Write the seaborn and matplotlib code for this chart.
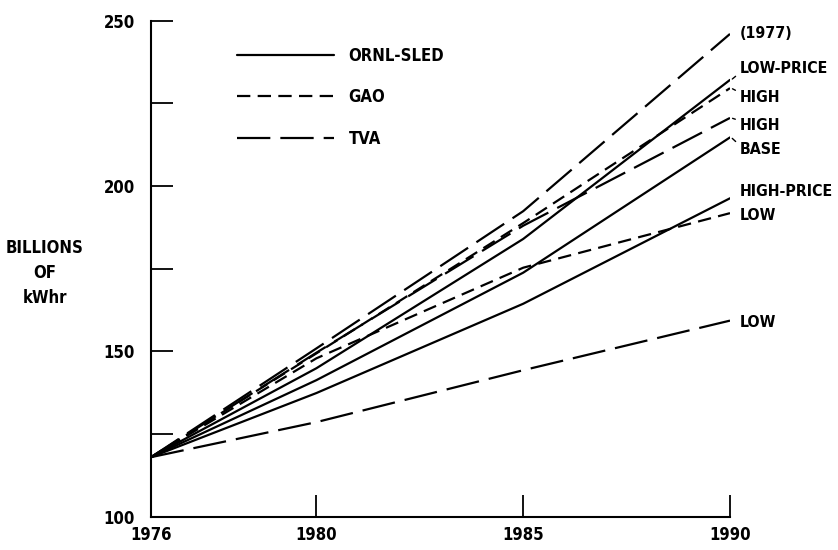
import numpy as np
import pandas as pd
import seaborn as sns
import matplotlib.pyplot as plt
from matplotlib import font_manager

# forecast years and values (billions of kWhr)
years = [1976, 1980, 1985, 1990]

ornl_low_price = [118, 144.9, 184.0, 232.1]
ornl_base = [118, 141.3, 173.8, 214.7]
ornl_high_price = [118, 137.4, 164.4, 196.3]
gao_high = [118, 149.4, 188.8, 229.6]
gao_low = [118, 147.9, 175.3, 191.8]
tva_1977 = [118, 150.9, 192.4, 246.0]
tva_high = [118, 149.6, 188.0, 220.6]
tva_low = [118, 128.6, 144.3, 159.3]

sources = ['ORNL-SLED', 'GAO', 'TVA']
series = [
    ('ORNL-SLED', 'LOW-PRICE', ornl_low_price),
    ('ORNL-SLED', 'BASE', ornl_base),
    ('ORNL-SLED', 'HIGH-PRICE', ornl_high_price),
    ('GAO', 'HIGH', gao_high),
    ('GAO', 'LOW', gao_low),
    ('TVA', '(1977)', tva_1977),
    ('TVA', 'HIGH', tva_high),
    ('TVA', 'LOW', tva_low),
]

# where the end labels sit (data y) and whether they get a little leader line
label_y = [235.4, 210.9, 198.3, 226.9, 191.0, 246.1, 218.4, 158.7]
leader = [(0, 0.25), (0, 0.8), None, (0, 0.8), None, None, (0, 0.8), None]

rows = []
for i, (src, name, vals) in enumerate(series):
    for yr, v in zip(years, vals):
        rows.append({'year': yr, 'kwh': v, 'source': src, 'series': i})
df = pd.DataFrame(rows)

sns.set_style("white")
fonts = font_manager.fontManager.ttflist
names = {f.name for f in fonts}
condensed = any(f.name == 'DejaVu Sans' and f.stretch == 'condensed' for f in fonts)
if 'Liberation Sans Narrow' in names:
    fam, fs, stretch = ['Liberation Sans Narrow', 'DejaVu Sans'], 14, 'normal'
elif condensed:
    fam, fs, stretch = ['DejaVu Sans'], 12, 'condensed'
else:
    fam, fs, stretch = ['Roboto', 'DejaVu Sans'], 12, 'normal'
plt.rcParams['font.family'] = fam
plt.rcParams['font.weight'] = 'bold'
plt.rcParams['font.stretch'] = stretch
plt.rcParams.update({'text.color': 'black', 'xtick.color': 'black',
                     'ytick.color': 'black', 'axes.labelcolor': 'black'})

fig = plt.figure(figsize=(8.38, 5.5), dpi=100)
ax = fig.add_axes([151 / 838, 1 - 516.7 / 550, (730 - 151) / 838, (516.7 - 20.7) / 550])

sns.lineplot(data=df, x='year', y='kwh', style='source', units='series',
             estimator=None, color='black', linewidth=1.6, style_order=sources,
             dashes={'ORNL-SLED': '', 'GAO': (6, 3.3), 'TVA': (15, 4.5)},
             ax=ax)

handles, labels = ax.get_legend_handles_labels()
keep = [(h, l) for h, l in zip(handles, labels) if l in sources]
ax.legend([h for h, l in keep], [l for h, l in keep], loc='upper left',
          bbox_to_anchor=(237 / 838, 1 - 47 / 550), bbox_transform=fig.transFigure,
          frameon=False, fontsize=fs, handlelength=5.8, handletextpad=0.9,
          labelspacing=1.4, borderpad=0, borderaxespad=0)

ax.set_xlim(1976, 1990)
ax.set_ylim(100, 250)
ax.set_xticks(years)
ax.set_xticklabels([str(y) for y in years])
ax.set_yticks([100, 150, 200, 250])
ax.set_yticks([125, 175, 225], minor=True)
ax.tick_params(axis='both', which='both', direction='in', length=16, width=1.3,
               color='black', labelsize=fs, bottom=True, left=True)
ax.tick_params(axis='y', pad=11.5)
ax.tick_params(axis='x', pad=7)
ax.set_xlabel('')
ax.set_ylabel('')
for side in ['top', 'right']:
    ax.spines[side].set_visible(False)
for side in ['left', 'bottom']:
    ax.spines[side].set_linewidth(1.5)
    ax.spines[side].set_color('black')

fig.text(45 / 838, 1 - 273 / 550, 'BILLIONS\nOF\nkWhr', ha='center', va='center',
         multialignment='center', fontsize=fs, linespacing=1.5)

lfs = fs - 0.6
for (src, name, vals), ly, rel in zip(series, label_y, leader):
    if rel is None:
        ax.text(1990.24, ly, name, ha='left', va='center', fontsize=lfs, clip_on=False)
    else:
        ax.annotate(name, xy=(1990.03, vals[-1]), xytext=(1990.24, ly),
                    ha='left', va='center', fontsize=lfs, annotation_clip=False,
                    arrowprops=dict(arrowstyle='-', lw=1, color='black',
                                    shrinkA=1, shrinkB=1, relpos=rel))

fig.savefig('out.png', dpi=100)
